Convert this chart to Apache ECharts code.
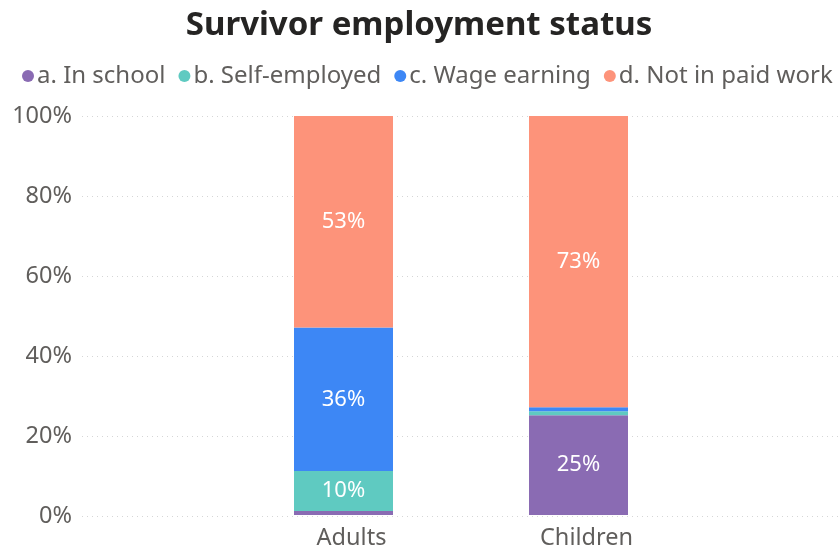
<!DOCTYPE html>
<html>
<head>
<meta charset="utf-8">
<script src="https://cdn.jsdelivr.net/npm/echarts@6/dist/echarts.min.js"></script>
<style>
  html, body { margin: 0; padding: 0; background: #ffffff; }
  #chart { width: 838px; height: 550px; }
</style>
</head>
<body>
<div id="chart"></div>
<script>
// Groups and employment shares (percent of each group)
const groups = ['Adults', 'Children'];
const seriesNames = ['a. In school', 'b. Self-employed', 'c. Wage earning', 'd. Not in paid work'];
const inSchool = [1, 25];
const selfEmployed = [10, 1];
const wageEarning = [36, 1];
const notInPaidWork = [53, 73];
const yTicks = [0, 20, 40, 60, 80, 100];

const colors = ['#8a6bb3', '#5fcac1', '#3d87f5', '#fd937a'];
const values = [inSchool, selfEmployed, wageEarning, notInPaidWork];
const FONT = 'Noto Sans';

const chart = echarts.init(document.getElementById('chart'), null, { renderer: 'canvas' });

const series = seriesNames.map((name, i) => ({
  name: name,
  type: 'bar',
  stack: 'total',
  xAxisIndex: 1,
  yAxisIndex: 1,
  barWidth: 99,
  itemStyle: { color: colors[i] },
  emphasis: { disabled: true },
  label: {
    show: true,
    position: 'inside',
    color: '#ffffff',
    fontFamily: FONT,
    fontSize: 22,
    formatter: p => (p.value >= 5 ? p.value + '%' : '')
  },
  data: values[i]
}));

chart.setOption({
  animation: false,
  color: colors,
  title: {
    text: 'Survivor employment status',
    left: 'center',
    top: 4,
    textStyle: { fontFamily: FONT, fontSize: 33, fontWeight: 'bold', color: '#252423' }
  },
  legend: {
    data: seriesNames,
    top: 64,
    left: 22,
    width: 816,
    padding: 0,
    icon: 'circle',
    itemWidth: 12,
    itemHeight: 12,
    itemGap: 13,
    textStyle: { fontFamily: FONT, fontSize: 24, color: '#605e5c', padding: [0, 0, 0, -2] }
  },
  grid: [
    { left: 82, right: 0, top: 116, bottom: 34 },
    { left: 226, width: 470, top: 116, bottom: 34 }
  ],
  xAxis: [
    { type: 'category', gridIndex: 0, data: [], show: false },
    {
      type: 'category',
      gridIndex: 1,
      data: groups,
      axisLine: { show: false },
      axisTick: { show: false },
      axisLabel: {
        fontFamily: FONT,
        fontSize: 23.5,
        color: '#605e5c',
        margin: 11,
        padding: [0, 0, 0, 16]
      }
    }
  ],
  yAxis: [
    {
      type: 'value',
      gridIndex: 0,
      min: 0,
      max: 100,
      interval: 20,
      axisLine: { show: false },
      axisTick: { show: false },
      axisLabel: {
        fontFamily: FONT,
        fontSize: 23.5,
        color: '#605e5c',
        margin: 10,
        formatter: v => (yTicks.includes(v) ? v + '%' : '')
      },
      splitLine: { lineStyle: { color: '#d6d6d6', type: [1, 4], width: 1 } }
    },
    { type: 'value', gridIndex: 1, min: 0, max: 100, show: false }
  ],
  series: series
});
</script>
</body>
</html>
